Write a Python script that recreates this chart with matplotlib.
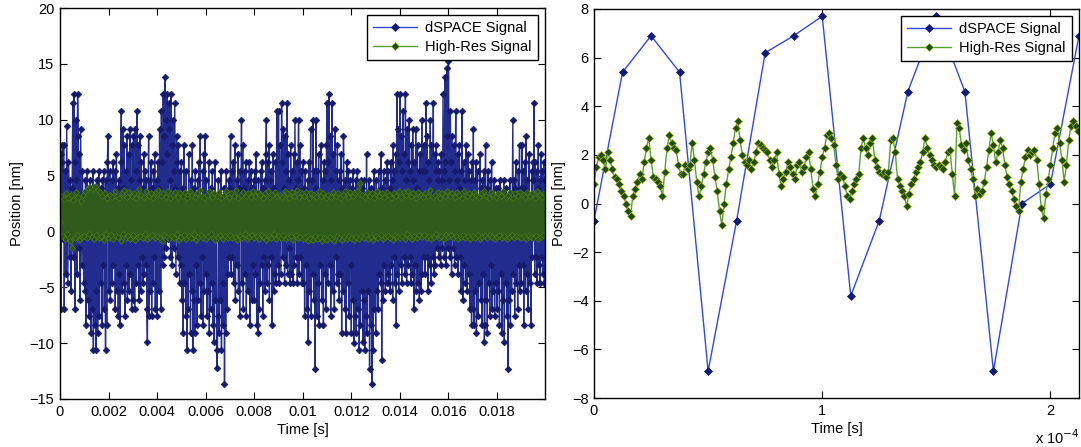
import numpy as np
import matplotlib
matplotlib.use("Agg")
import matplotlib.pyplot as plt
from matplotlib.lines import Line2D
from matplotlib.ticker import FixedLocator, FixedFormatter

plt.rcParams['font.family'] = ['Liberation Sans', 'DejaVu Sans']

# ---------------------------------------------------------------------------
# Data
# ---------------------------------------------------------------------------
# Sample spacing of each trace [s]
dt_dspace_full = 25e-6
dt_highres_full = 50e-6
dt_dspace_zoom = 12.5e-6
dt_highres_zoom = 1e-6

# dSPACE position signal over the full 20 ms record [nm]
dspace_full = [
    -0.7, 6.9, -6.9, 6.2, 7.7, -0.7, 7.7, -6.9, 0.8, 5.4, -3.8, 9.4, 2.3, -4.6, 6.2, 3.1, -2.3, 4.6, -5.3, 1.6,
    3.9, 11.5, -2.3, 12.3, 6.2, -6.9, 10.0, 4.6, -3.8, 12.3, 8.5, -1.5, 6.9, -6.1, 9.2, 3.1, -3.0, 5.4, 0.8, -4.6,
    2.3, -5.3, 4.6, -8.4, 1.6, 5.4, -6.1, 3.1, -7.6, 0.8, 4.6, -9.1, 2.3, -6.9, 5.4, -10.6, 1.6, -8.4, 3.9, -10.6,
    -5.3, 4.6, -9.1, 2.3, 5.4, -7.6, 1.6, -4.6, 3.9, -8.4, 4.6, -3.0, 5.4, -6.9, 2.3, -10.6, 4.6, -8.4, 6.2, 8.5,
    3.1, -5.3, 5.4, -6.1, 1.6, 4.6, -4.6, 6.2, -3.0, 2.3, 5.4, -6.9, 0.8, 6.9, -5.3, 3.9, -7.6, 4.6, -3.8, -8.4,
    6.2, 10.8, -5.3, 3.9, 9.2, -4.6, 7.7, -7.6, 5.4, -3.0, 8.5, -6.1, 2.3, 6.9, -5.3, 9.2, -3.8, 4.6, -6.9, 7.7,
    -6.1, 8.5, 3.1, -6.9, 9.2, 5.4, -4.6, 10.8, -3.0, 7.7, -6.1, 4.6, 8.5, -5.3, 6.2, -2.3, 3.9, -4.6, 6.9, -3.8,
    5.4, -3.0, 4.6, -6.9, -9.9, 3.1, 8.5, -7.6, 4.6, -5.3, 6.2, -7.6, 3.9, -4.6, 5.4, -2.3, 6.9, -6.9, 2.3, 4.6,
    -7.6, 6.2, 3.9, -5.3, 9.2, 2.3, -6.9, 10.8, 6.2, -3.0, 12.3, 8.5, -2.3, 13.8, 10.0, -1.5, 12.3, 6.9, -0.7, 9.2,
    11.5, 4.6, -2.3, 12.3, 7.7, -3.0, 10.0, 5.4, -1.5, 11.5, 3.9, -3.8, 8.5, 6.2, -2.3, 7.7, 2.3, -4.6, 5.4, -3.0,
    6.2, -6.1, 3.9, -9.1, 7.7, -4.6, 2.3, -7.6, 5.4, -10.6, 3.1, -6.9, 6.9, -3.8, 1.6, -9.1, 4.6, -5.3, 7.7, -10.6,
    -6.1, 3.9, -9.1, 5.4, -3.0, 2.3, -8.4, 4.6, -6.1, 6.2, -4.6, 8.5, -7.6, 3.1, -2.3, 5.4, -8.4, 6.9, -5.3, 8.5,
    -3.8, 4.6, -7.6, 2.3, -5.3, 6.2, -9.1, 1.6, -6.9, 3.9, -4.6, 5.4, -8.4, 3.1, -9.9, 6.2, -6.1, 2.3, -10.6, -12.2,
    -7.6, 4.6, -9.1, 3.1, -6.1, 5.4, -10.6, 2.3, -4.6, -8.4, 3.9, -13.7, 1.6, -9.1, 5.4, -6.9, 3.1, -3.8, 4.6, -2.3,
    3.9, 8.5, -3.8, 5.4, -2.3, 6.2, -4.6, 3.1, 7.7, -6.1, 2.3, 4.6, -3.0, 6.9, -5.3, 3.9, -7.6, 5.4, 2.3, 10.0,
    -4.6, 7.7, -6.9, 3.9, 5.4, -3.8, 6.2, -7.6, 2.3, 4.6, -5.3, 3.1, 6.2, -8.4, 1.6, 5.4, -6.1, 3.9, -3.0, 4.6,
    -6.1, 5.4, -3.8, 6.9, -8.4, 2.3, -9.1, 4.6, -6.9, 3.1, -4.6, 5.4, -3.0, 6.2, -7.6, 3.9, -2.3, 4.6, -5.3, 6.9,
    10.0, -4.6, 6.2, -3.0, 7.7, -6.1, 4.6, -2.3, 5.4, -8.4, 3.1, 6.9, -5.3, 3.9, -3.8, 6.2, -4.6, 10.8, 2.3, -3.0,
    10.8, -4.6, 7.7, 2.3, -3.8, 11.5, 6.2, -2.3, 9.2, 3.9, -4.6, 8.5, -3.0, 5.4, 11.5, -3.8, 6.9, -1.5, 4.6, -4.6,
    7.7, -3.8, 5.4, 2.3, -4.6, 6.9, -3.0, 10.0, 3.9, -2.3, 6.2, -4.6, 4.6, 10.0, -3.8, 7.7, -2.3, 5.4, -4.6, 3.1,
    6.2, -4.6, 3.9, -7.6, 5.4, -3.0, 2.3, -6.9, 4.6, -9.9, 6.2, -5.3, 3.1, 9.2, -7.6, 4.6, -3.8, 10.0, -6.1, 5.4,
    -12.3, 3.9, 10.0, -7.6, 5.4, -4.6, 6.9, -8.4, 3.1, -3.0, 7.7, -6.1, 2.3, 4.6, -8.4, 6.2, -3.8, 5.4, -6.9, 7.7,
    11.5, -4.6, 6.2, 12.3, -3.0, 8.5, -7.6, 4.6, 11.5, -5.3, 6.9, 3.1, -6.9, 9.2, -2.3, 5.4, -4.6, 7.7, -3.8, 4.6,
    -6.1, 5.4, -3.8, 6.9, -9.1, 3.9, -5.3, 8.5, 2.3, -6.9, 4.6, -9.1, 3.1, 6.2, -4.6, 5.4, -7.6, 2.3, 4.6, -3.0,
    -9.1, 3.9, -6.1, 5.4, -10.0, 2.3, -7.6, 4.6, -9.1, 1.6, 5.4, -6.9, 3.1, -10.6, 2.3, -8.4, 4.6, -5.3, 3.9, -9.9,
    -6.1, 4.6, -10.6, 2.3, -7.6, 6.9, -9.1, 3.1, -5.3, 4.6, -12.3, 1.6, -8.4, 3.9, -13.7, 2.3, -10.6, 5.4, -6.9, 3.1,
    -9.1, 4.6, -5.3, 3.1, -6.9, 5.4, -3.8, 2.3, -4.6, 6.9, -11.5, 3.9, -6.1, 5.4, -3.0, 4.6, -5.3, 2.3, -4.6, 6.2,
    -3.8, 5.4, -4.6, 3.9, -5.3, 6.2, -3.0, 4.6, -6.1, 7.7, -2.3, 5.4, -4.6, 6.9, -8.4, 12.3, -3.8, 9.2, -5.3, 6.2,
    12.3, -3.0, 8.5, -4.6, 5.4, 10.8, -2.3, 6.9, -3.8, 12.3, 4.6, -4.6, 9.2, -3.0, 6.2, 10.0, -2.3, 5.4, -4.6, 7.7,
    -3.8, 9.2, 4.6, -6.9, 6.2, -3.0, 9.2, -5.3, 3.9, 7.7, -4.6, 5.4, -6.1, 6.9, 3.1, -5.3, 10.0, -3.8, 5.4, -2.3,
    7.7, -3.8, 5.4, 11.5, -2.3, 8.5, -5.3, 6.2, 4.6, -3.0, 10.0, -4.6, 7.7, 3.1, -2.3, 11.5, -3.8, 6.9, -3.0, 5.4,
    7.7, -1.5, 4.6, 6.2, -2.3, 5.4, 3.1, -3.0, 6.9, 4.6, -1.5, 12.3, 5.4, -2.3, 13.8, 6.2, -3.0, 14.6, 8.5, -1.5,
    15.3, 4.6, -2.3, 10.8, 6.2, -3.8, 8.5, 3.1, -1.5, 7.7, -3.0, 5.4, 10.8, -2.3, 4.6, 6.9, -3.8, 3.9, 7.7, -2.3,
    5.4, -5.3, 10.8, 3.1, -6.1, 6.2, -3.0, 4.6, -4.6, 7.7, 2.3, -5.3, 6.9, -3.8, 5.4, -6.9, 3.1, 4.6, -8.4, 6.2,
    -6.9, 9.2, -8.4, 4.6, -5.3, 6.2, -9.1, 3.1, 5.4, -7.6, 2.3, -4.6, 6.9, -6.1, 3.9, -8.4, 4.6, -3.8, 5.4, -9.9,
    -8.4, 7.7, -6.1, 3.9, -9.1, 5.4, -4.6, 2.3, -7.6, 4.6, -3.0, 6.2, -6.9, 3.1, -5.3, 4.6, -7.6, 2.3, -4.6, 3.9,
    -6.9, 3.9, -5.3, 2.3, -8.4, 4.6, -3.8, 1.6, -9.1, 3.1, -6.1, 4.6, -9.9, 2.3, -4.6, 3.9, -7.6, 1.6, -12.3, 3.1,
    -6.1, 4.6, -8.4, 3.1, -5.3, 2.3, 10.0, -3.8, 4.6, -7.6, 3.9, 6.2, -4.6, 2.3, -6.9, 5.4, -3.0, 7.7, -5.3, 3.9,
    -4.6, 7.7, -3.0, 5.4, -8.4, 3.9, 6.2, -5.3, 8.5, -3.8, 4.6, -6.9, 2.3, 6.9, -4.6, 3.1, -8.4, 5.4, -2.3, 6.2,
    4.6, 11.5, -3.8, 6.2, -2.3, 5.4, -4.6, 3.9, 7.7, -3.0, 4.6, -4.6, 6.9, -2.3, 5.4, -3.8, 3.1, 6.2, -4.6, 4.6,
]

# High-resolution position signal, decimated overview of the 20 ms record [nm]
highres_full = [
    0.8, 3.2, -0.4, 2.9, -0.7, 3.4, -0.2, 3.0, -0.9, 3.3, -1.5, 2.8, -0.6, 3.5, -0.3, 3.1, -0.8, 2.7, -0.5, 3.3,
    -0.4, 3.6, -0.6, 3.9, -0.2, 4.0, -0.5, 3.8, -0.7, 4.1, -0.3, 3.7, -0.6, 3.5, -0.4, 3.2, -0.8, 3.4, -0.2, 3.0,
    -0.6, 3.3, -0.3, 3.1, -0.7, 3.6, -0.4, 3.2, -0.5, 3.0, -0.9, 3.4, -0.2, 3.7, -0.6, 3.1, -0.4, 3.5, -0.7, 3.2,
    -0.3, 3.4, -0.8, 3.0, -0.5, 3.8, -0.4, 3.3, -0.6, 3.1, -0.2, 3.6, -0.7, 3.2, -0.5, 3.4, -0.3, 3.0, -0.6, 3.5,
    -0.4, 3.7, -0.6, 3.2, -0.9, 3.4, -0.3, 3.1, -0.5, 3.6, -0.7, 3.0, -0.4, 3.3, -0.6, 3.5, -0.2, 3.1, -0.8, 3.4,
    -0.5, 3.2, -0.3, 3.5, -0.7, 3.0, -0.4, 3.6, -0.6, 3.3, -0.2, 3.1, -0.8, 3.4, -0.5, 3.7, -0.3, 3.2, -0.6, 3.0,
    -0.7, 3.3, -0.4, 3.6, -0.2, 3.1, -0.6, 3.4, -0.8, 3.2, -0.5, 3.5, -0.3, 3.0, -0.7, 3.3, -0.4, 3.6, -0.6, 3.1,
    -0.3, 3.4, -0.6, 3.2, -0.5, 3.7, -0.8, 3.0, -0.4, 3.3, -0.6, 3.5, -0.2, 3.2, -0.7, 3.4, -0.5, 3.1, -0.3, 3.6,
    -0.6, 3.2, -0.4, 3.5, -0.7, 3.3, -0.3, 3.0, -0.5, 3.4, -0.8, 3.6, -0.4, 3.1, -0.6, 3.3, -0.2, 3.5, -0.7, 3.2,
    -0.4, 3.3, -0.6, 3.1, -0.3, 3.6, -0.7, 3.4, -0.5, 3.0, -0.4, 3.5, -0.8, 3.2, -0.3, 3.7, -0.6, 3.1, -0.5, 3.4,
    -0.7, 3.2, -0.5, 3.5, -0.9, 3.0, -0.6, 3.4, -0.8, 3.3, -0.4, 3.1, -0.7, 3.6, -0.5, 3.2, -0.9, 3.4, -0.6, 3.0,
    -0.8, 3.3, -0.5, 3.1, -0.7, 3.5, -0.9, 3.2, -0.4, 3.4, -0.6, 3.0, -0.8, 3.3, -0.5, 3.6, -0.7, 3.1, -0.4, 3.5,
    -0.6, 3.2, -0.8, 3.4, -0.5, 3.6, -0.7, 4.3, -0.4, 3.3, -0.6, 3.1, -0.3, 3.5, -0.7, 3.2, -0.5, 3.4, -0.8, 3.0,
    -0.4, 3.6, -0.6, 3.2, -0.3, 3.4, -0.7, 3.1, -0.5, 3.5, -0.4, 3.3, -0.6, 3.0, -0.8, 3.4, -0.3, 3.2, -0.5, 3.6,
    -0.6, 3.1, -0.4, 3.5, -0.7, 3.3, -0.2, 3.6, -0.5, 3.2, -0.7, 3.4, -0.4, 3.0, -0.6, 3.5, -0.3, 3.3, -0.5, 3.1,
    -0.3, 3.4, -0.6, 3.2, -0.4, 3.7, -0.7, 3.1, -0.5, 3.3, -0.2, 3.5, -0.6, 3.0, -0.4, 3.4, -0.7, 3.2, -0.3, 3.6,
    -0.5, 3.2, -0.3, 3.4, -0.6, 3.1, -0.4, 3.5, -0.7, 3.3, -0.5, 3.0, -0.3, 3.6, -0.6, 3.2, -0.4, 3.4, -0.7, 3.1,
    -0.4, 3.5, -0.6, 3.3, -0.3, 3.1, -0.7, 3.4, -0.5, 3.6, -0.4, 3.2, -0.6, 3.0, -0.3, 3.5, -0.5, 3.3, -0.7, 3.1,
    -0.5, 3.4, -0.3, 3.2, -0.6, 3.6, -0.4, 3.1, -0.7, 3.3, -0.5, 3.5, -0.3, 3.0, -0.6, 3.4, -0.4, 3.2, -0.5, 3.5,
    -0.6, 3.3, -0.4, 3.1, -0.7, 3.5, -0.3, 3.2, -0.5, 3.4, -0.6, 3.0, -0.4, 3.6, -0.7, 3.3, -0.5, 3.1, -0.3, 3.4,
]

# dSPACE signal over the first ~0.21 ms [nm]
dspace_zoom = [-0.7, 5.4, 6.9, 5.4, -6.9, -0.7, 6.2, 6.9, 7.7, -3.8,
               -0.7, 4.6, 7.7, 4.6, -6.9, 0.0, 0.8, 6.9]

# High-resolution signal over the first ~0.21 ms [nm]
highres_zoom = [
    0.8, 1.5, 1.9, 2.0, 1.8, 1.4, 2.1, 1.8, 1.4, 1.1, 1.0, 0.8, 0.5, 0.3, 0.0, -0.3, -0.5, 0.3, 0.6, 0.9,
    1.2, 1.0, 1.7, 2.3, 2.7, 1.8, 1.1, 1.0, 0.9, 0.7, 0.3, 1.3, 2.3, 2.8, 2.5, 2.3, 2.2, 1.6, 1.2, 1.2,
    1.6, 1.4, 1.6, 2.5, 1.8, 0.9, 0.3, 0.7, 1.2, 1.7, 2.1, 2.3, 1.8, 1.1, 0.5, -0.3, -0.9, 0.0, 0.8, 1.4,
    1.9, 2.5, 3.1, 3.4, 2.6, 2.0, 1.7, 1.6, 1.8, 1.4, 1.7, 2.1, 2.5, 2.4, 2.3, 2.2, 2.1, 1.8, 1.5, 1.8,
    2.1, 1.2, 0.7, 1.0, 1.3, 1.7, 1.5, 1.2, 1.0, 1.6, 1.7, 1.3, 1.5, 1.9, 2.1, 1.4, 0.6, 0.3, 0.8, 1.3,
    1.9, 2.3, 2.8, 2.9, 2.7, 2.4, 1.6, 1.0, 1.2, 1.1, 0.7, 0.3, 0.2, 0.5, 0.8, 1.0, 1.2, 2.3, 2.7, 2.3,
    2.0, 2.5, 2.7, 1.8, 1.5, 1.3, 1.2, 1.3, 1.1, 1.3, 2.6, 2.7, 2.1, 1.0, 0.7, 0.5, 0.3, -0.1, 0.4, 0.8,
    1.0, 1.3, 1.5, 1.7, 2.1, 2.7, 2.3, 2.0, 1.8, 1.6, 1.5, 1.6, 1.5, 1.4, 1.7, 2.1, 2.2, 1.2, 0.3, 3.3,
    3.1, 2.4, 2.2, 2.5, 1.8, 1.4, 1.0, 0.3, 0.6, 0.4, 0.5, 0.9, 1.5, 2.2, 2.9, 2.4, 1.7, 2.1, 2.6, 2.3,
    1.6, 1.1, 0.8, 0.5, 0.2, -0.1, -0.3, 0.9, 1.4, 1.9, 2.2, 2.0, 2.1, 2.2, 1.8, 0.8, -0.2, -0.6, 0.4, 1.0,
    1.6, 2.3, 2.9, 3.1, 2.5, 1.8, 0.9, 1.6, 2.6, 3.2, 3.4, 3.2, 3.0,
]

# Axis ticks
full_xticks = [0, 0.002, 0.004, 0.006, 0.008, 0.01, 0.012, 0.014, 0.016, 0.018]
full_xticklabels = ['0', '0.002', '0.004', '0.006', '0.008', '0.01', '0.012', '0.014', '0.016', '0.018']
full_yticks = [-15, -10, -5, 0, 5, 10, 15, 20]
zoom_xticks = [0, 1e-4, 2e-4]
zoom_xticklabels = ['0', '1', '2']
zoom_yticks = [-8, -6, -4, -2, 0, 2, 4, 6, 8]

series_labels = ['dSPACE Signal', 'High-Res Signal']

# ---------------------------------------------------------------------------
# Styles
# ---------------------------------------------------------------------------
FS = 10.5
# dense overview: markers crowd together into a solid mass
dspace_full_style = dict(color='#222c8e', lw=1.0, marker='D', ms=3.4,
                         mfc='#151a6c', mec='#151a6c', mew=0.5)
highres_full_style = dict(color='#2f5c1c', lw=2.0, marker='D', ms=3.0,
                          mfc='#28531a', mec='#4f7a1c', mew=0.5)
# sparse close-up (also used for the legend keys)
dspace_zoom_style = dict(color='#3348dc', lw=1.0, marker='D', ms=4.0,
                         mfc='#121a7a', mec='#121a7a', mew=0.5)
highres_zoom_style = dict(color='#5aa030', lw=1.0, marker='D', ms=4.4,
                          mfc='#1f4d12', mec='#a9bb1c', mew=0.45)


def style_axes(ax):
    ax.tick_params(direction='in', top=True, right=True, length=5, width=0.8,
                   labelsize=FS, pad=4)
    for sp in ax.spines.values():
        sp.set_linewidth(1.0)
    ax.set_xlabel('Time [s]', fontsize=FS, labelpad=3)
    ax.set_ylabel('Position [nm]', fontsize=FS, labelpad=4)
    keys = [Line2D([], [], **dspace_zoom_style),
            Line2D([], [], **highres_zoom_style)]
    leg = ax.legend(keys, series_labels, loc='upper right', fancybox=False,
                    edgecolor='black', framealpha=1, fontsize=FS,
                    handlelength=3.0, borderpad=0.4, labelspacing=0.35,
                    handletextpad=0.6, borderaxespad=0.5)
    leg.get_frame().set_linewidth(1.0)


fig = plt.figure(figsize=(10.81, 4.47), dpi=100)
ax1 = fig.add_axes([60 / 1081, 48 / 447, 485 / 1081, 391 / 447])
ax2 = fig.add_axes([594 / 1081, 49 / 447, 485 / 1081, 389 / 447])

# Full record
t_ds_full = np.arange(len(dspace_full)) * dt_dspace_full
t_hr_full = np.arange(len(highres_full)) * dt_highres_full
ax1.plot(t_ds_full, dspace_full, **dspace_full_style)
ax1.plot(t_hr_full, highres_full, **highres_full_style)
ax1.set_xlim(0, t_ds_full[-1])
ax1.set_ylim(-15, 20)
ax1.xaxis.set_major_locator(FixedLocator(full_xticks))
ax1.xaxis.set_major_formatter(FixedFormatter(full_xticklabels))
ax1.set_yticks(full_yticks)
style_axes(ax1)

# First samples of the record
t_ds_zoom = np.arange(len(dspace_zoom)) * dt_dspace_zoom
t_hr_zoom = np.arange(len(highres_zoom)) * dt_highres_zoom
ax2.plot(t_ds_zoom, dspace_zoom, **dspace_zoom_style)
ax2.plot(t_hr_zoom, highres_zoom, **highres_zoom_style)
ax2.set_xlim(0, t_ds_zoom[-1])
ax2.set_ylim(-8, 8)
ax2.xaxis.set_major_locator(FixedLocator(zoom_xticks))
ax2.xaxis.set_major_formatter(FixedFormatter(zoom_xticklabels))
ax2.set_yticks(zoom_yticks)
style_axes(ax2)
ax2.text(1.0, -0.125, r'x 10$^{-4}$', transform=ax2.transAxes,
         ha='right', va='bottom', fontsize=FS)

fig.savefig('out.png', dpi=100)
